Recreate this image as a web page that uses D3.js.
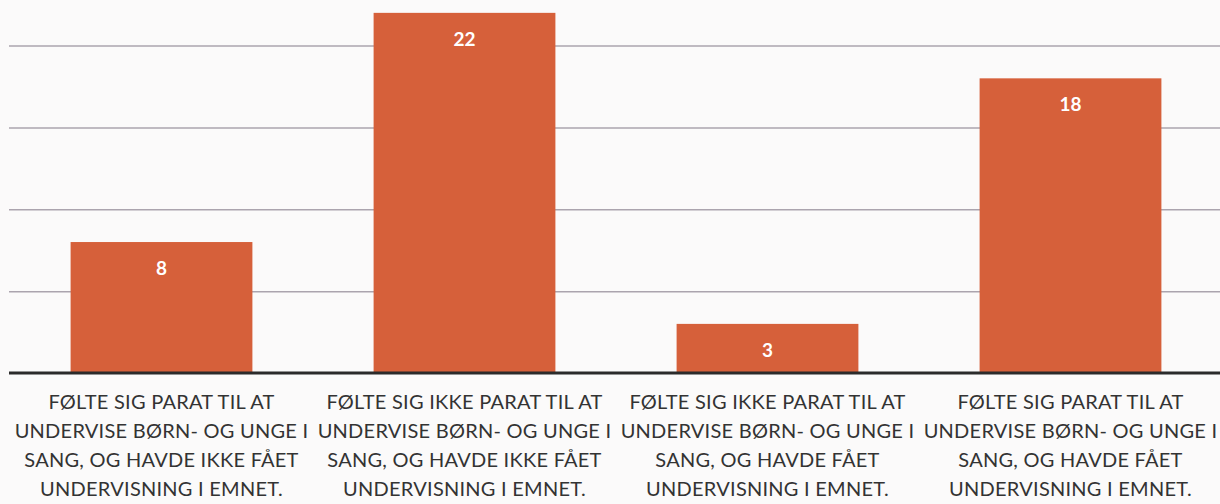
<!DOCTYPE html>
<html>
<head>
<meta charset="utf-8">
<script src="https://cdn.jsdelivr.net/npm/d3@7"></script>
<style>
  html, body { margin: 0; padding: 0; background: #fbfafa; }
  svg { display: block; }
</style>
</head>
<body>
<div id="chart"></div>
<script>
// category labels, one array of lines per bar
const labels = [
  ["FØLTE SIG PARAT TIL AT", "UNDERVISE BØRN- OG UNGE I", "SANG, OG HAVDE IKKE FÅET", "UNDERVISNING I EMNET."],
  ["FØLTE SIG IKKE PARAT TIL AT", "UNDERVISE BØRN- OG UNGE I", "SANG, OG HAVDE IKKE FÅET", "UNDERVISNING I EMNET."],
  ["FØLTE SIG IKKE PARAT TIL AT", "UNDERVISE BØRN- OG UNGE I", "SANG, OG HAVDE FÅET", "UNDERVISNING I EMNET."],
  ["FØLTE SIG PARAT TIL AT", "UNDERVISE BØRN- OG UNGE I", "SANG, OG HAVDE FÅET", "UNDERVISNING I EMNET."]
];
const categories = ["c1", "c2", "c3", "c4"];
const values = [8, 22, 3, 18];
const gridTicks = [5, 10, 15, 20];

const width = 1220;
const height = 504;
const baseline = 373;
const pxPerUnit = 16.37;

const svg = d3.select('#chart')
  .append('svg')
  .attr('width', width)
  .attr('height', height);

const xScale = d3.scaleBand()
  .domain(categories)
  .range([10, 1222])
  .paddingInner(0.4)
  .paddingOuter(0.2);

const yScale = d3.scaleLinear()
  .domain([0, 25])
  .range([baseline, baseline - 25 * pxPerUnit]);

// gridlines
svg.append('g')
  .attr('transform', 'translate(9,0)')
  .call(d3.axisLeft(yScale).tickValues(gridTicks).tickFormat('').tickSize(-(width - 9)))
  .call(g => g.select('.domain').remove())
  .selectAll('line')
  .attr('stroke', '#aba4ae')
  .attr('stroke-width', 1.5);

// bars
svg.append('g')
  .selectAll('rect')
  .data(values)
  .join('rect')
  .attr('x', (d, i) => xScale(categories[i]))
  .attr('y', d => yScale(d))
  .attr('width', xScale.bandwidth())
  .attr('height', d => baseline - yScale(d))
  .attr('fill', '#d6603a');

// value labels
svg.append('g')
  .selectAll('text')
  .data(values)
  .join('text')
  .attr('x', (d, i) => xScale(categories[i]) + xScale.bandwidth() / 2)
  .attr('y', d => yScale(d) + 33)
  .attr('text-anchor', 'middle')
  .attr('fill', '#ffffff')
  .style('font-family', 'Lato, "Open Sans", sans-serif')
  .style('font-weight', 'bold')
  .style('font-size', '19px')
  .text(d => d);

// baseline axis
svg.append('line')
  .attr('x1', 9)
  .attr('x2', width)
  .attr('y1', baseline)
  .attr('y2', baseline)
  .attr('stroke', '#2b2b2b')
  .attr('stroke-width', 3);

// category labels
const lab = svg.append('g')
  .selectAll('text')
  .data(labels)
  .join('text')
  .attr('x', (d, i) => xScale(categories[i]) + xScale.bandwidth() / 2)
  .attr('text-anchor', 'middle')
  .attr('fill', '#333333')
  .style('font-family', 'Lato, "Open Sans", sans-serif')
  .style('font-size', '20px')
  .style('letter-spacing', '0.25px');

lab.selectAll('tspan')
  .data(d => d)
  .join('tspan')
  .attr('x', function () { return d3.select(this.parentNode).attr('x'); })
  .attr('y', (d, i) => 409 + i * 29)
  .text(d => d);
</script>
</body>
</html>
